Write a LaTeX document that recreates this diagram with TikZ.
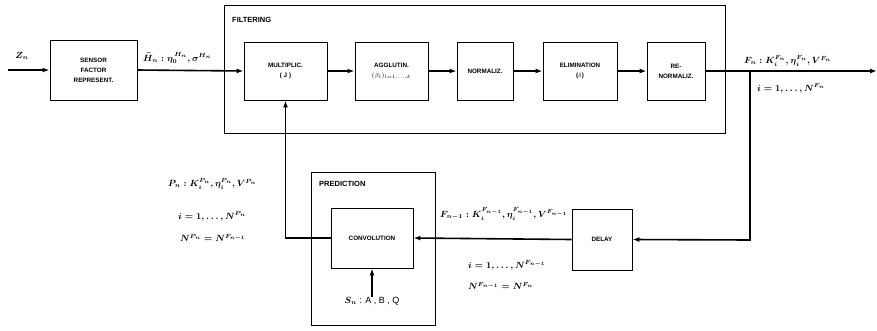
\documentclass[tikz,border=0pt]{standalone}
\usepackage{fontspec}
\setmainfont{Liberation Sans}
\usetikzlibrary{arrows.meta}
\begin{document}
\begin{tikzpicture}[x=1pt,y=-1pt,
  blk/.style={draw,line width=0.9pt,rectangle,inner sep=1pt,align=center,font=\fontsize{6.3}{10}\selectfont\bfseries},
  frame/.style={draw,line width=0.6pt},
  flow/.style={line width=1.6pt,-{Latex[length=7pt,width=5pt]}},
  lbl/.style={font=\fontsize{9}{10}\selectfont\boldmath,inner sep=0pt},
  ttl/.style={font=\fontsize{7.5}{8}\selectfont\bfseries,anchor=west,inner sep=0pt}]
\useasboundingbox (0,0) rectangle (877,330);
% frames
\draw[frame] (224,5) rectangle (725,133);
\node[ttl] (filt) at (232,20) {FILTERING};
\draw[frame] (311,172) rectangle (435,325);
\node[ttl] (pred) at (319,184) {PREDICTION};
% blocks
\node[blk,minimum width=87pt,minimum height=60pt] (sensor) at (93.5,70) {SENSOR\\FACTOR\\REPRESENT.};
\node[blk,minimum width=83pt,minimum height=58pt] (mult) at (285.5,71) {MULTIPLIC.\\( J )};
\node[blk,minimum width=73pt,minimum height=58pt] (agg) at (391.5,71) {AGGLUTIN.\\$(\beta_l)_{l=1,\dots,k}$};
\node[blk,minimum width=56pt,minimum height=58pt] (norm) at (485,71) {NORMALIZ.};
\node[blk,minimum width=74pt,minimum height=58pt] (elim) at (580,71) {ELIMINATION\\($\delta$)};
\node[blk,minimum width=58pt,minimum height=58pt] (renorm) at (676,71) {RE-\\NORMALIZ.};
\node[blk,minimum width=60pt,minimum height=61pt] (delay) at (602,239.5) {DELAY};
\node[blk,minimum width=82pt,minimum height=60pt] (conv) at (372,238) {CONVOLUTION};
\node[lbl] (sn) at (372,301) {$S_n$ : A , B , Q};
% coordinates
\coordinate (zin) at (8,70);
\coordinate (out) at (877,71);
\coordinate (br) at (750,71);
\coordinate (brd) at (750,240);
% connectors
\draw[flow] (zin) -- (sensor.west);
\node[lbl] (zn) at (22,56) {$Z_n$};
\draw[flow] (sensor.east) -- (mult.west);
\draw[flow] (mult.east) -- (agg.west);
\draw[flow] (agg.east) -- (norm.west);
\draw[flow] (norm.east) -- (elim.west);
\draw[flow] (elim.east) -- (renorm.west);
\draw[flow] (renorm.east) -- (out);
\draw[flow] (br) -- (brd) -- (delay.east);
\draw[flow] (delay.west) -- (conv.east);
\draw[flow] (conv.west) -| (mult.south);
\draw[flow] (sn.north) -- (conv.south);
% labels
\node[lbl,anchor=west] (hl) at (143,58) {$\bar H_n : \eta_0^{\,H_n}, \sigma^{H_n}$};
\node[lbl,anchor=west] (fl) at (744,61) {$F_n : K_i^{F_n}, \eta_i^{F_n}, V^{F_n}$};
\node[lbl,anchor=west] (fi) at (757,88) {$i=1,\dots,N^{F_n}$};
\node[lbl,anchor=west] (pl) at (168,184) {$P_n : K_i^{P_n}, \eta_i^{P_n}, V^{P_n}$};
\node[lbl,anchor=west] (pi) at (178,216) {$i=1,\dots,N^{P_n}$};
\node[lbl,anchor=west] (pn) at (180,238) {$N^{P_n} = N^{F_{n-1}}$};
\node[lbl,anchor=west] (fml) at (440,214) {$F_{n-1} : K_i^{F_{n-1}}, \eta_i^{F_{n-1}}, V^{F_{n-1}}$};
\node[lbl,anchor=west] (fmi) at (468,265) {$i=1,\dots,N^{F_{n-1}}$};
\node[lbl,anchor=west] (fmn) at (468,286) {$N^{F_{n-1}} = N^{F_n}$};
\end{tikzpicture}
\end{document}
